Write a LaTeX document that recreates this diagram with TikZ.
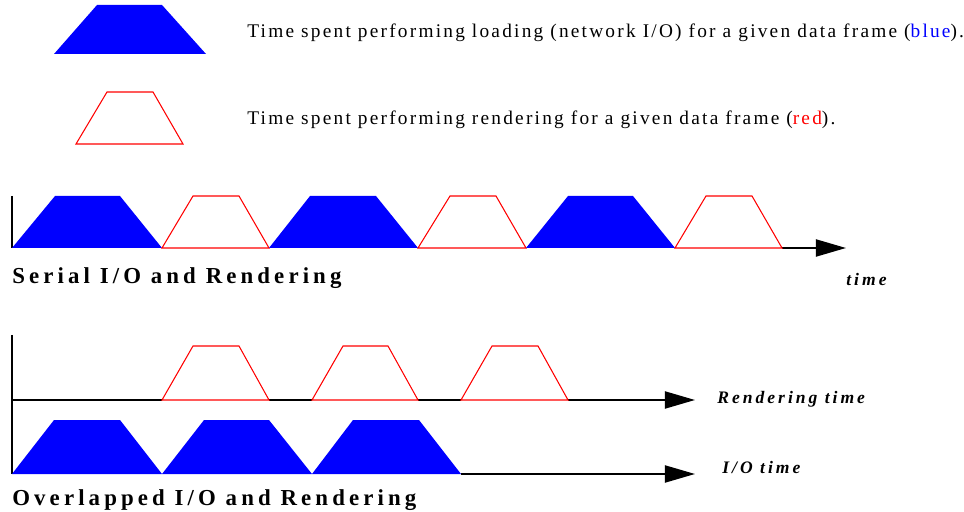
\documentclass[tikz,border=0pt]{standalone}
\usepackage{fontspec}
\setmainfont{Liberation Serif}
\usetikzlibrary{arrows.meta}

\begin{document}
\begin{tikzpicture}[
              scale=0.2,
              load/.style={fill=blue},
              render/.style={draw=red,line width=0.6pt,line join=miter},
              axis/.style={line width=1.1pt},
              timeaxis/.style={axis,-{Triangle[length=0.6cm,width=0.34cm]}},
              legendtext/.style={anchor=west,inner sep=0pt,font=\fontsize{11}{13}\selectfont\addfontfeature{LetterSpace=11.5}},
              heading/.style={anchor=west,inner sep=0pt,font=\bfseries\fontsize{13}{15}\selectfont\addfontfeature{LetterSpace=18}},
              axislabel/.style={anchor=west,inner sep=0pt,font=\bfseries\itshape\fontsize{10}{12}\selectfont\addfontfeature{LetterSpace=17}}
            ]
            \useasboundingbox (0cm,0cm) rectangle (96.4cm,-51.2cm);

            % Legend
            \fill[load] (5.4cm,-5.4cm) -- (9.7cm,-0.5cm) -- (16.2cm,-0.5cm) -- (20.6cm,-5.4cm) -- cycle;
            \node[legendtext] (legendload) at (24.7cm,-3.3cm) {Time spent performing loading (network I/O) for a given data frame (\textcolor{blue}{blue}).};

            \draw[render] (7.6cm,-14.4cm) -- (10.7cm,-9.2cm) -- (15.3cm,-9.2cm) -- (18.3cm,-14.4cm) -- cycle;
            \node[legendtext] (legendrender) at (24.7cm,-12.0cm) {Time spent performing rendering for a given data frame (\textcolor{red}{red}).};

            % Serial I/O and Rendering
            \coordinate (serialtop) at (1.2cm,-19.6cm);
            \coordinate (serialorigin) at (1.2cm,-24.8cm);
            \coordinate (serialstop) at (78.2cm,-24.8cm);
            \coordinate (serialend) at (84.6cm,-24.8cm);
            \draw[axis] (serialtop) -- (serialorigin);
            \draw[timeaxis] (serialstop) -- (serialend);

            \fill[load] (1.2cm,-24.8cm) -- (5.5cm,-19.6cm) -- (12.0cm,-19.6cm) -- (16.2cm,-24.8cm) -- cycle;
            \draw[render] (16.2cm,-24.8cm) -- (19.3cm,-19.6cm) -- (23.9cm,-19.6cm) -- (26.9cm,-24.8cm) -- cycle;
            \fill[load] (26.9cm,-24.8cm) -- (31.0cm,-19.6cm) -- (37.6cm,-19.6cm) -- (41.8cm,-24.8cm) -- cycle;
            \draw[render] (41.8cm,-24.8cm) -- (45.0cm,-19.6cm) -- (49.6cm,-19.6cm) -- (52.6cm,-24.8cm) -- cycle;
            \fill[load] (52.6cm,-24.8cm) -- (56.8cm,-19.6cm) -- (63.3cm,-19.6cm) -- (67.5cm,-24.8cm) -- cycle;
            \draw[render] (67.5cm,-24.8cm) -- (70.6cm,-19.6cm) -- (75.2cm,-19.6cm) -- (78.2cm,-24.8cm) -- cycle;

            \node[heading] (serialtitle) at (1.2cm,-27.8cm) {Serial I/O and Rendering};
            \node[axislabel] (serialtime) at (84.6cm,-27.9cm) {time};

            % Overlapped I/O and Rendering
            \coordinate (overlaptop) at (1.2cm,-33.5cm);
            \coordinate (renderorigin) at (1.2cm,-40.0cm);
            \coordinate (renderend) at (69.5cm,-40.0cm);
            \coordinate (ioorigin) at (1.2cm,-47.4cm);
            \coordinate (iostop) at (46.1cm,-47.4cm);
            \coordinate (ioend) at (69.5cm,-47.4cm);
            \draw[axis] (overlaptop) -- (ioorigin);
            \draw[axis] (renderorigin) -- (16.2cm,-40.0cm) (26.9cm,-40.0cm) -- (31.2cm,-40.0cm) (41.8cm,-40.0cm) -- (46.1cm,-40.0cm);
            \draw[timeaxis] (56.8cm,-40.0cm) -- (renderend);
            \draw[timeaxis] (iostop) -- (ioend);

            \draw[render] (16.2cm,-40.0cm) -- (19.3cm,-34.6cm) -- (23.9cm,-34.6cm) -- (26.9cm,-40.0cm) -- cycle;
            \draw[render] (31.2cm,-40.0cm) -- (34.3cm,-34.6cm) -- (38.8cm,-34.6cm) -- (41.8cm,-40.0cm) -- cycle;
            \draw[render] (46.1cm,-40.0cm) -- (49.2cm,-34.6cm) -- (53.8cm,-34.6cm) -- (56.8cm,-40.0cm) -- cycle;

            \fill[load] (1.2cm,-47.4cm) -- (5.4cm,-42.0cm) -- (12.0cm,-42.0cm) -- (16.2cm,-47.4cm) -- cycle;
            \fill[load] (16.2cm,-47.4cm) -- (20.4cm,-42.0cm) -- (26.9cm,-42.0cm) -- (31.2cm,-47.4cm) -- cycle;
            \fill[load] (31.2cm,-47.4cm) -- (35.3cm,-42.0cm) -- (41.9cm,-42.0cm) -- (46.1cm,-47.4cm) -- cycle;

            \node[axislabel] (rendertime) at (71.7cm,-39.9cm) {Rendering time};
            \node[axislabel] (iotime) at (72.2cm,-46.7cm) {I/O time};
            \node[heading] (overlaptitle) at (1.2cm,-50.0cm) {Overlapped I/O and Rendering};

            \end{tikzpicture}
\end{document}
